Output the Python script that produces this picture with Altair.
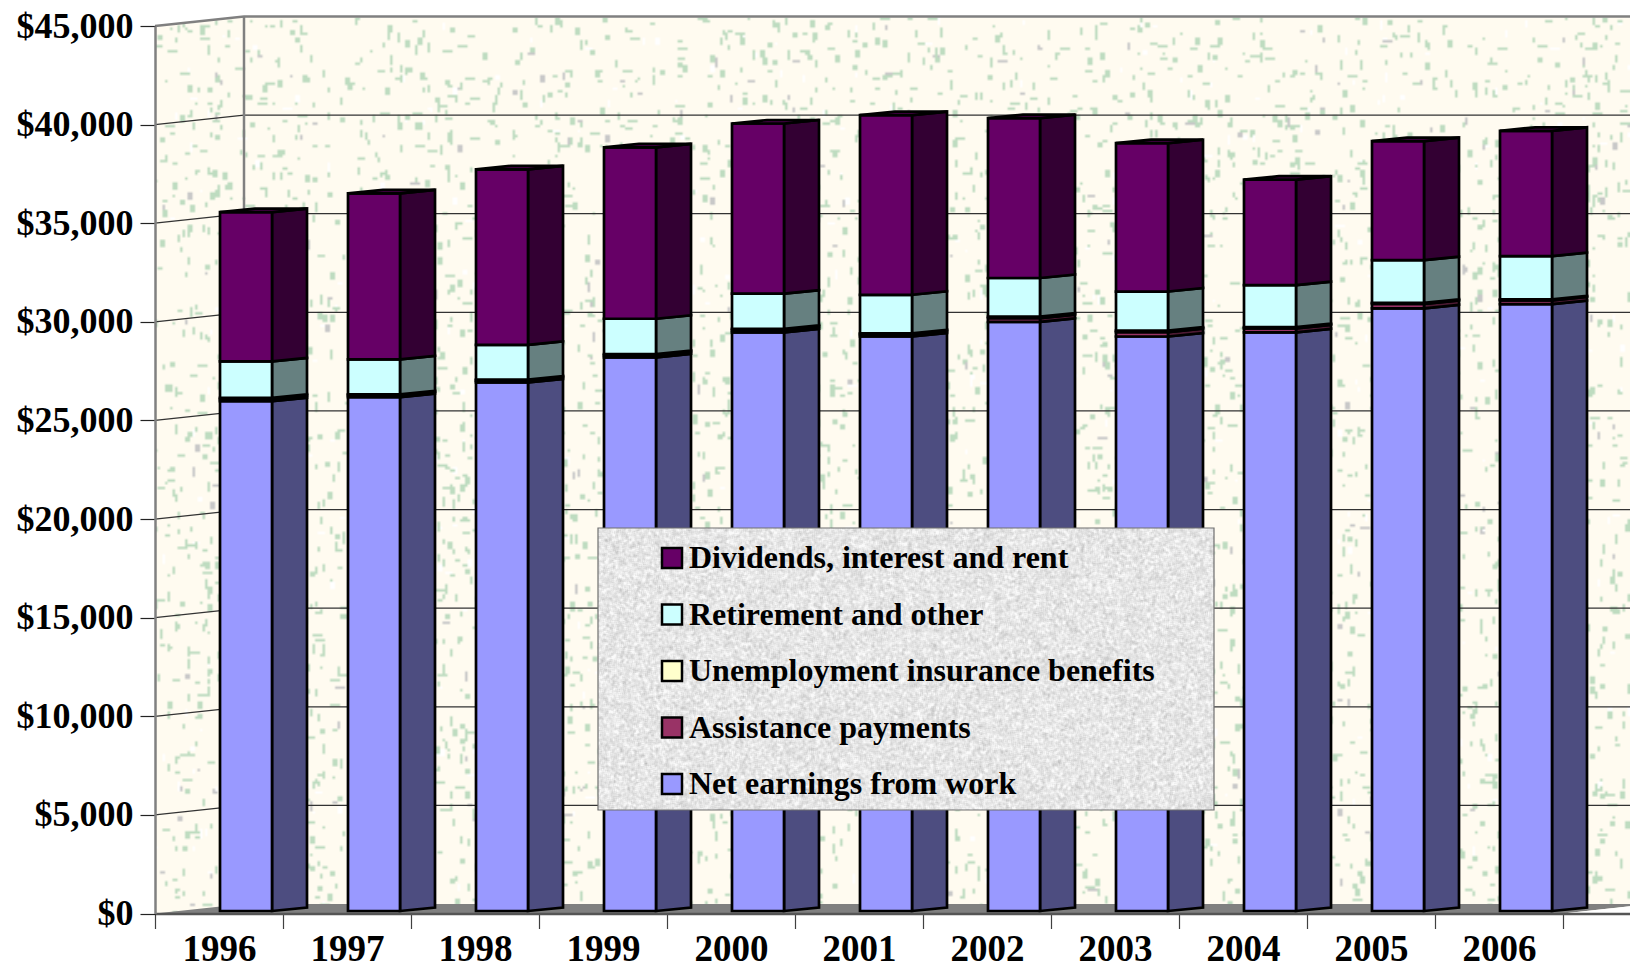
import base64, struct, zlib
import numpy as np
import pandas as pd
import altair as alt

years = [1996, 1997, 1998, 1999, 2000, 2001, 2002, 2003, 2004, 2005, 2006]
net_earnings = [25850, 26060, 26800, 28070, 29340, 29130, 29870, 29130, 29340, 30560, 30770]
assistance = [110, 92, 95, 110, 117, 100, 190, 225, 205, 220, 190]
unemployment = [60, 50, 55, 60, 60, 60, 73, 70, 58, 60, 50]
retirement = [1845, 1768, 1755, 1790, 1783, 1955, 1962, 1985, 2127, 2160, 2195]
dividends = [7575, 8420, 8900, 8690, 8630, 9110, 8105, 7520, 5350, 6040, 6355]

series_names = ["Net earnings from work", "Assistance payments",
                "Unemployment insurance benefits", "Retirement and other",
                "Dividends, interest and rent"]
series_values = [net_earnings, assistance, unemployment, retirement, dividends]
front_colors = ["#9999FF", "#993366", "#FFFFCC", "#CCFFFF", "#660066"]
side_colors = ["#4D4D80", "#4D1A33", "#808066", "#668080", "#330033"]

PLOT_W, PLOT_H = 1475, 887.5
CAT = 128.0
PX_PER_USD = PLOT_H / 45000
XMAX = PLOT_W / CAT


def px_x(p):
    return p / CAT


def px_y(p):
    return p / PX_PER_USD


WALL_DX, WALL_DY = px_x(89), px_y(9.5)
BAR_OFF, BAR_W = px_x(65), px_x(52)
SIDE_DX, SIDE_DY = px_x(35), px_y(3.5)
BASE = px_y(2.5)


# ---- The bitmap fill textures of the wall and legend box (no data in these) ----
def png_uri(arr):
    h, w = arr.shape[:2]
    raw = b"".join(b"\x00" + arr[r].tobytes() for r in range(h))

    def chunk(tag, payload):
        return (struct.pack(">I", len(payload)) + tag + payload
                + struct.pack(">I", zlib.crc32(tag + payload) & 0xFFFFFFFF))

    png = (b"\x89PNG\r\n\x1a\n"
           + chunk(b"IHDR", struct.pack(">IIBBBBB", w, h, 8, 2, 0, 0, 0))
           + chunk(b"IDAT", zlib.compress(raw, 9)) + chunk(b"IEND", b""))
    return "data:image/png;base64," + base64.b64encode(png).decode()


tex = np.random.default_rng(7)
TH, TW = 359, 590
wall = np.zeros((TH, TW, 3), dtype=np.uint8)
wall[:, :] = (255, 251, 240)
for _ in range(6200):
    cy, cx = tex.integers(0, TH), tex.integers(0, TW)
    kind = tex.random()
    if kind < 0.62:
        h, w = tex.integers(1, 4), tex.integers(1, 3)
    elif kind < 0.82:
        h, w = tex.integers(2, 5), 1
    else:
        h, w = 1, tex.integers(2, 5)
    u = tex.random()
    col = (190, 220, 192) if u < 0.84 else ((200, 200, 200) if u < 0.90 else (255, 255, 255))
    wall[cy:cy + h, cx:cx + w] = col

noise = tex.normal(0, 1, (282, 616))
blur = sum(np.roll(np.roll(noise, a, 0), b, 1) for a in (-1, 0, 1) for b in (-1, 0, 1)) / 3
gray = np.clip(230 + 9 * blur, 190, 250).astype(np.uint8)
paper = np.stack([gray, gray, gray], axis=2)

xs = alt.Scale(domain=[0, XMAX], nice=False, zero=False)
ys = alt.Scale(domain=[0, 45000], nice=False, zero=False)
x_axis = alt.Axis(
    values=list(range(12)), grid=False, zindex=1,
    labelExpr="datum.value <= 10 ? '' + (1996 + datum.value) : ''",
    labelOffset=64, labelPadding=3, labelFont="Liberation Serif", labelFontWeight="bold",
    labelFontSize=37, labelColor="#000000", labelOverlap=False, labelBound=False,
    labelFlush=False, tickSize=15, tickColor="#404040", tickWidth=1.2,
    domainColor="#555555", domainWidth=2.5)
y_axis = alt.Axis(
    values=list(range(0, 45001, 5000)), format="$,.0f", grid=False, zindex=1,
    labelPadding=7, labelFont="Liberation Serif", labelFontWeight="bold",
    labelFontSize=36, labelColor="#000000", labelOverlap=False, labelBound=False,
    labelFlush=False, tickSize=15, tickColor="#222222", tickWidth=1.2,
    domainColor="#808080", domainWidth=2.5)
X = alt.X("x:Q", scale=xs, title=None, axis=x_axis)
X2 = alt.X2("x2:Q")
Y = alt.Y("y:Q", scale=ys, title=None, axis=y_axis)
Y2 = alt.Y2("y2:Q")

# ---- Frames derived from the series ----
front_rows, side_rows, top_rows = [], [], []
for i, _year in enumerate(years):
    x0 = i + BAR_OFF
    x1 = x0 + BAR_W
    cum = BASE
    for s, vals in enumerate(series_values):
        lo, hi = cum, cum + vals[i]
        cum = hi
        front_rows.append(dict(x=x0, x2=x1, y=lo, y2=hi, series=series_names[s], order=s))
        key = f"{i}-{s}"
        side_rows.append(dict(key=key, order=s, i=i, x=x1, y=lo, y2=hi, side=side_colors[s]))
        side_rows.append(dict(key=key, order=s, i=i, x=x1 + SIDE_DX, y=lo + SIDE_DY,
                              y2=hi + SIDE_DY, side=side_colors[s]))
    for px, a, b in [(x0, cum, cum), (x0 + SIDE_DX, cum, cum + SIDE_DY),
                     (x1, cum, cum + SIDE_DY), (x1 + SIDE_DX, cum + SIDE_DY, cum + SIDE_DY)]:
        top_rows.append(dict(key=str(i), x=px, y=a, y2=b))

front_df = pd.DataFrame(front_rows)
side_df = pd.DataFrame(side_rows)
top_df = pd.DataFrame(top_rows)

floor_df = pd.DataFrame([
    dict(x=0, y=0, y2=0),
    dict(x=WALL_DX, y=0, y2=WALL_DY),
    dict(x=11, y=0, y2=WALL_DY),
    dict(x=11 + WALL_DX, y=WALL_DY, y2=WALL_DY),
])
under_df = pd.DataFrame([dict(x=11, y=0, y2=0), dict(x=11 + WALL_DX, y=0, y2=WALL_DY)])
corner_df = pd.DataFrame([dict(x=0, y=45000, y2=45000 + WALL_DY),
                          dict(x=WALL_DX, y=45000 + WALL_DY, y2=45000 + WALL_DY)])

grid_rows = []
for v in range(5000, 45000, 5000):
    grid_rows += [dict(v=v, p=0, x=0, y=v), dict(v=v, p=1, x=WALL_DX, y=v + WALL_DY),
                  dict(v=v, p=2, x=XMAX, y=v + WALL_DY)]
grid_df = pd.DataFrame(grid_rows)
frame_df = pd.DataFrame([dict(p=0, x=0, y=45000), dict(p=1, x=WALL_DX, y=45000 + WALL_DY),
                         dict(p=2, x=XMAX, y=45000 + WALL_DY)])
back_df = pd.DataFrame([dict(x=WALL_DX, y=WALL_DY, y2=45000 + WALL_DY)])
one = alt.Data(values=[{"a": 1}])

# ---- Layers ----
wall_img = alt.Chart(one).mark_image(
    url=png_uri(wall), width=PLOT_W, height=896, aspect=False, align="left", baseline="top"
).encode(x=alt.value(0), y=alt.value(-8.5))
corner = alt.Chart(corner_df).mark_area(color="#FFFFFF", orient="vertical").encode(x=X, y=Y, y2=Y2)
grid = alt.Chart(grid_df).mark_line(color="#333333", strokeWidth=1.3).encode(
    x=X, y=Y, detail="v:N", order="p:Q")
frame = alt.Chart(frame_df).mark_line(color="#808080", strokeWidth=2.5).encode(
    x=X, y=Y, order="p:Q")
back = alt.Chart(back_df).mark_rule(color="#808080", strokeWidth=2.5).encode(x=X, y=Y, y2=Y2)
floor = alt.Chart(floor_df).mark_area(color="#808080", orient="vertical").encode(x=X, y=Y, y2=Y2)
under = alt.Chart(under_df).mark_area(color="#FFFFFF", orient="vertical").encode(x=X, y=Y, y2=Y2)

sides = alt.Chart(side_df).mark_area(
    orient="vertical", stroke="#000000", strokeWidth=2.7, strokeJoin="miter"
).encode(x=X, y=Y, y2=Y2, detail="key:N", fill=alt.Fill("side:N", scale=None, legend=None))

legend_order = list(reversed(series_names))
fronts = alt.Chart(front_df).mark_rect(stroke="#000000", strokeWidth=2.7).encode(
    x=X, x2=X2, y=Y, y2=Y2,
    fill=alt.Fill("series:N",
                  scale=alt.Scale(domain=legend_order, range=list(reversed(front_colors))),
                  legend=alt.Legend(
                      title=None, orient="none", legendX=501, legendY=516, zindex=2,
                      symbolType="square", symbolSize=400, symbolStrokeColor="#000000",
                      symbolStrokeWidth=2.5, labelFont="Liberation Serif",
                      labelFontWeight="bold", labelFontSize=32, labelColor="#000000",
                      labelOffset=1, rowPadding=24.5, labelLimit=600, padding=0)),
)
tops = alt.Chart(top_df).mark_area(
    orient="vertical", color="#4D004D", stroke="#000000", strokeWidth=2.7
).encode(x=X, y=Y, y2=Y2, detail="key:N")

paper_img = alt.Chart(one).mark_image(
    url=png_uri(paper), width=616, height=282, aspect=False, align="left", baseline="top"
).encode(x=alt.value(443), y=alt.value(502))
paper_box = alt.Chart(one).mark_rect(fillOpacity=0, stroke="#707070", strokeWidth=1.2).encode(
    x=alt.value(443), x2=alt.value(1059), y=alt.value(502), y2=alt.value(784))

chart = alt.layer(
    wall_img, corner, grid, frame, back, floor, under, sides, fronts, tops,
    paper_img, paper_box,
).resolve_scale(fill="independent").properties(
    width=PLOT_W, height=PLOT_H,
    padding={"left": 147, "top": 18, "right": 0, "bottom": 55},
    autosize=alt.AutoSizeParams(type="none"),
).configure_view(stroke=None).configure(background="#FFFFFF")

chart.save("out.html", embed_options={"renderer": "svg", "actions": False})
